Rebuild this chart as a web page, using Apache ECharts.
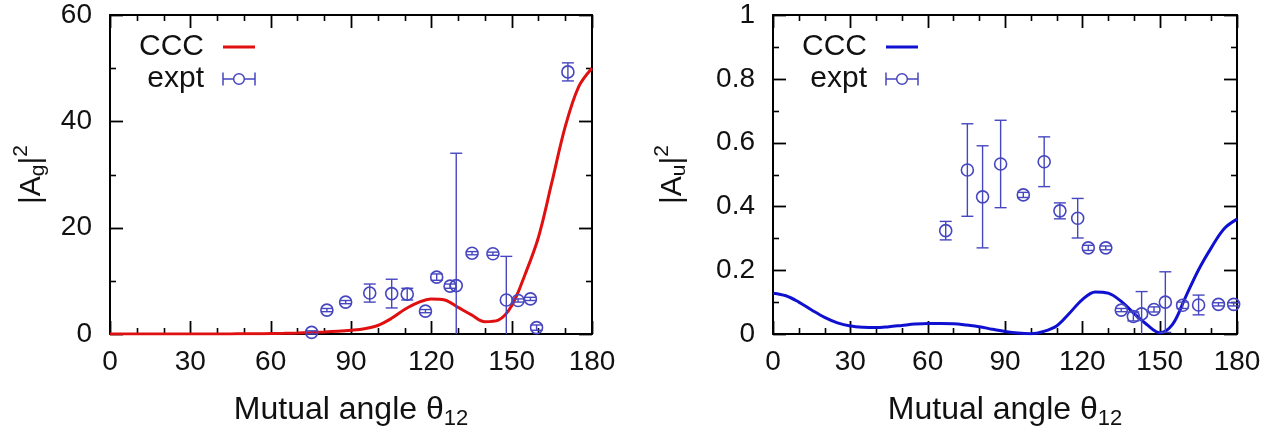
<!DOCTYPE html>
<html>
<head>
<meta charset="utf-8">
<script src="https://cdn.jsdelivr.net/npm/echarts@6/dist/echarts.min.js"></script>
<style>
  html, body { margin: 0; padding: 0; background: #fff; }
  #chart { width: 1281px; height: 436px; }
</style>
</head>
<body>
<div id="chart"></div>
<script>
// Mutual angle axis labels shared by both panels
const angleTicks = [0, 30, 60, 90, 120, 150, 180];
// frame tick marks (every 10 degrees; every 30 is a long tick)
const angleTickMarks = [0, 10, 20, 30, 40, 50, 60, 70, 80, 90, 100, 110, 120, 130, 140, 150, 160, 170, 180];
const gTickMarks = [0, 10, 20, 30, 40, 50, 60];
const uTickMarks = [0, 0.1, 0.2, 0.3, 0.4, 0.5, 0.6, 0.7, 0.8, 0.9, 1];

// |A_g|^2 : CCC theory curve
const ccgAngle = [0, 5, 10, 15, 20, 25, 30, 35, 40, 45, 50, 55, 60, 65, 70, 75, 80, 85, 90, 95, 100,
  105, 110, 115, 120, 125, 130, 135, 140, 145, 150, 155, 160, 165, 170, 175, 180];
const ccgValue = [0, 0, 0, 0, 0, 0, 0, 0, 0.01, 0.02, 0.03, 0.05, 0.08, 0.12, 0.18, 0.26, 0.36, 0.5, 0.7, 1.0, 1.6,
  2.9, 4.6, 5.9, 6.6, 6.4, 5.0, 3.6, 2.3, 2.6, 5.3, 11.2, 18.2, 28.5, 39.0, 46.5, 50.0];

// |A_g|^2 : measured points with vertical error bars
const exgAngle = [75.3, 81, 88, 97, 105.2, 111, 117.8, 122, 127, 129.3, 135.2, 143, 148, 152.4, 157, 159.3, 171];
const exgValue = [0.3, 4.5, 6.0, 7.7, 7.6, 7.5, 4.3, 10.7, 9.0, 9.1, 15.2, 15.1, 6.4, 6.3, 6.6, 1.2, 49.3];
const exgError = [0.3, 0.3, 0.3, 1.7, 2.7, 1.1, 0.3, 0.6, 0.4, 24.9, 0.3, 0.3, 8.2, 0.3, 0.3, 0.5, 1.7];

// |A_u|^2 : CCC theory curve
const ccuAngle = [0, 5, 10, 15, 20, 25, 30, 35, 40, 45, 50, 55, 60, 65, 70, 75, 80, 85, 90, 95, 100,
  105, 110, 115, 120, 125, 130, 135, 140, 145, 150, 155, 160, 165, 170, 175, 180];
const ccuValue = [0.128, 0.12, 0.1, 0.075, 0.052, 0.035, 0.025, 0.021, 0.02, 0.023, 0.027, 0.031, 0.033, 0.033,
  0.032, 0.028, 0.023, 0.015, 0.008, 0.003, 0.001, 0.008, 0.025, 0.065, 0.108, 0.132, 0.128, 0.103, 0.065,
  0.03, 0.004, 0.03, 0.115, 0.2, 0.27, 0.33, 0.36];

// |A_u|^2 : measured points with vertical error bars
const exuAngle = [67, 75.4, 81.3, 88.3, 97.1, 105.2, 111.3, 118.2, 122.3, 129.1, 135.1, 139.8, 143, 147.8, 152.2, 158.9, 165.1, 172.8, 178.7];
const exuValue = [0.324, 0.514, 0.43, 0.533, 0.436, 0.54, 0.386, 0.363, 0.27, 0.27, 0.075, 0.055, 0.063, 0.077, 0.1, 0.09, 0.091, 0.093, 0.093];
const exuError = [0.029, 0.145, 0.16, 0.137, 0.008, 0.078, 0.025, 0.062, 0.008, 0.006, 0.005, 0.014, 0.07, 0.008, 0.095, 0.01, 0.031, 0.005, 0.005];

const FONT = 'Liberation Sans, Arial, Helvetica, sans-serif';
const INK = '#111';
const RED = '#e01010';
const BLUE = '#1010d0';
const PT = '#4646c0';

// plot frames (pixels)
const GRIDS = [
  { left: 110, top: 15, width: 482, height: 319 },
  { left: 773, top: 15, width: 464, height: 319 }
];

function zip(xs, ys, es) {
  return xs.map((x, i) => es ? [x, ys[i], es[i]] : [x, ys[i]]);
}

// circle marker with a capped vertical error bar, clamped at the axis floor
function errorBarItem(params, api) {
  const x = api.value(0), y = api.value(1), e = api.value(2);
  const floor = 0;
  const c = api.coord([x, y]);
  const hi = api.coord([x, y + e]);
  const lo = api.coord([x, Math.max(y - e, floor)]);
  const cap = 6;
  const st = { stroke: PT, lineWidth: 1.4, fill: null };
  const kids = [
    { type: 'line', shape: { x1: c[0], y1: hi[1], x2: c[0], y2: lo[1] }, style: st },
    { type: 'line', shape: { x1: c[0] - cap, y1: hi[1], x2: c[0] + cap, y2: hi[1] }, style: st }
  ];
  if (y - e >= floor) {
    kids.push({ type: 'line', shape: { x1: c[0] - cap, y1: lo[1], x2: c[0] + cap, y2: lo[1] }, style: st });
  }
  kids.push({ type: 'circle', shape: { cx: c[0], cy: c[1], r: 6 }, style: { stroke: PT, lineWidth: 1.6, fill: null } });
  return { type: 'group', children: kids };
}

// Inward frame ticks on all four sides, placed through the panel's own scales.
// Each item: [side (0 = angle axis, 1 = value axis), tick value, long tick (1/0)]
function frameTickItem(params, api) {
  const side = api.value(0), v = api.value(1), major = api.value(2);
  const cs = params.coordSys;
  const len = major ? 13 : 6;
  const st = { stroke: '#000', lineWidth: major ? 1.8 : 1.6 };
  if (side === 0) {
    const px = Math.round(api.coord([v, 0])[0]) + 0.5;
    const yb = cs.y + cs.height, yt = cs.y;
    return { type: 'group', children: [
      { type: 'line', shape: { x1: px, y1: yb, x2: px, y2: yb - len }, style: st },
      { type: 'line', shape: { x1: px, y1: yt, x2: px, y2: yt + len }, style: st }
    ] };
  }
  const py = Math.round(api.coord([0, v])[1]) + 0.5;
  const xl = cs.x, xr = cs.x + cs.width;
  return { type: 'group', children: [
    { type: 'line', shape: { x1: xl, y1: py, x2: xl + len, y2: py }, style: st },
    { type: 'line', shape: { x1: xr, y1: py, x2: xr - len, y2: py }, style: st }
  ] };
}

function tickData(angleMarks, angleMajor, valueMarks, valueMajor) {
  const near = (a, b) => Math.abs(a - b) < 1e-9;
  const isMultiple = (v, step) => near(Math.round(v / step) * step, v);
  return angleMarks.map(a => [0, a, isMultiple(a, angleMajor) ? 1 : 0])
    .concat(valueMarks.map(v => [1, v, isMultiple(v, valueMajor) ? 1 : 0]));
}

const lineStyle = { color: '#000', width: 2 };
const noLabel = { show: false };
const noSplit = { show: false };
const noTick = { show: false };

function xAxes(gridIndex) {
  const base = { type: 'value', gridIndex, min: 0, max: 180, interval: 30, splitLine: noSplit, axisTick: noTick };
  return [
    // bottom edge: labels, name, frame line
    Object.assign({}, base, {
      position: 'bottom',
      axisLine: { show: true, onZero: false, lineStyle },
      axisLabel: { show: true, margin: 14, fontSize: 28, fontFamily: FONT, color: INK, customValues: angleTicks },
      name: '{a|Mutual angle θ}{s|12}',
      nameLocation: 'middle', nameGap: 56,
      nameTextStyle: {
        color: INK, fontFamily: FONT,
        rich: {
          a: { fontSize: 32, fontFamily: FONT, color: INK },
          s: { fontSize: 22, fontFamily: FONT, color: INK, padding: [18, 0, 0, 0] }
        }
      }
    }),
    // top frame line
    Object.assign({}, base, {
      position: 'top',
      axisLine: { show: true, onZero: false, lineStyle },
      axisLabel: noLabel
    })
  ];
}

function yAxes(gridIndex, max, interval, sub, gap) {
  const base = { type: 'value', gridIndex, min: 0, max, interval, splitLine: noSplit, axisTick: noTick };
  return [
    // left edge: labels, name, frame line
    Object.assign({}, base, {
      position: 'left',
      axisLine: { show: true, onZero: false, lineStyle },
      axisLabel: { show: true, margin: 18, fontSize: 28, fontFamily: FONT, color: INK },
      name: '{a||A}{s|' + sub + '}{a||}{p|2}',
      nameLocation: 'middle', nameGap: gap, nameRotate: 90,
      nameTextStyle: {
        color: INK, fontFamily: FONT,
        rich: {
          a: { fontSize: 30, fontFamily: FONT, color: INK },
          s: { fontSize: 21, fontFamily: FONT, color: INK, padding: [14, 0, 0, 0] },
          p: { fontSize: 21, fontFamily: FONT, color: INK, padding: [0, 0, 20, 0] }
        }
      }
    }),
    // right frame line
    Object.assign({}, base, {
      position: 'right',
      axisLine: { show: true, onZero: false, lineStyle },
      axisLabel: noLabel
    })
  ];
}

// "|-o-|" legend glyph for the measured points, short bar for the theory curve
const exptIcon = 'path://M1 1V13M1 7H11M21 7H31M31 1V13M11 7A5 5 0 1 0 21 7A5 5 0 1 0 11 7';
const lineIcon = 'path://M0 0H32V3H0Z';

function legendDef(left, suffix, lineColor) {
  return {
    orient: 'vertical', align: 'right', left, top: 27,
    itemWidth: 32, itemHeight: 14, itemGap: 2,
    selectedMode: false, symbolKeepAspect: true,
    textStyle: { fontSize: 30, fontFamily: FONT, color: INK, padding: [0, 14, 0, 0] },
    formatter: n => n.split(' ')[0],
    data: [
      { name: 'CCC ' + suffix, icon: lineIcon, itemStyle: { color: lineColor, borderWidth: 0 } },
      { name: 'expt ' + suffix, icon: exptIcon,
        itemStyle: { color: 'rgba(0,0,0,0)', borderColor: PT, borderWidth: 1.5 } }
    ]
  };
}

const chart = echarts.init(document.getElementById('chart'), null, { renderer: 'canvas' });
chart.setOption({
  animation: false,
  backgroundColor: '#fff',
  grid: GRIDS,
  xAxis: xAxes(0).concat(xAxes(1)),
  yAxis: yAxes(0, 60, 20, 'g', 58).concat(yAxes(1, 1, 0.2, 'u', 80)),
  legend: [legendDef(134, 'g', RED), legendDef(797, 'u', BLUE)],
  series: [
    { type: 'custom', xAxisIndex: 0, yAxisIndex: 0, silent: true, z: 1,
      data: tickData(angleTickMarks, 30, gTickMarks, 20), renderItem: frameTickItem, clip: false },
    { type: 'custom', xAxisIndex: 2, yAxisIndex: 2, silent: true, z: 1,
      data: tickData(angleTickMarks, 30, uTickMarks, 0.2), renderItem: frameTickItem, clip: false },
    { name: 'CCC g', type: 'line', xAxisIndex: 0, yAxisIndex: 0,
      data: zip(ccgAngle, ccgValue), smooth: 0.35, showSymbol: false, symbol: 'none',
      lineStyle: { color: RED, width: 3 }, itemStyle: { color: RED } },
    { name: 'expt g', type: 'custom', xAxisIndex: 0, yAxisIndex: 0,
      data: zip(exgAngle, exgValue, exgError), renderItem: errorBarItem,
      encode: { x: 0, y: 1 }, itemStyle: { color: PT }, clip: false, z: 5 },
    { name: 'CCC u', type: 'line', xAxisIndex: 2, yAxisIndex: 2,
      data: zip(ccuAngle, ccuValue), smooth: 0.35, showSymbol: false, symbol: 'none',
      lineStyle: { color: BLUE, width: 3 }, itemStyle: { color: BLUE } },
    { name: 'expt u', type: 'custom', xAxisIndex: 2, yAxisIndex: 2,
      data: zip(exuAngle, exuValue, exuError), renderItem: errorBarItem,
      encode: { x: 0, y: 1 }, itemStyle: { color: PT }, clip: false, z: 5 }
  ]
});
</script>
</body>
</html>
